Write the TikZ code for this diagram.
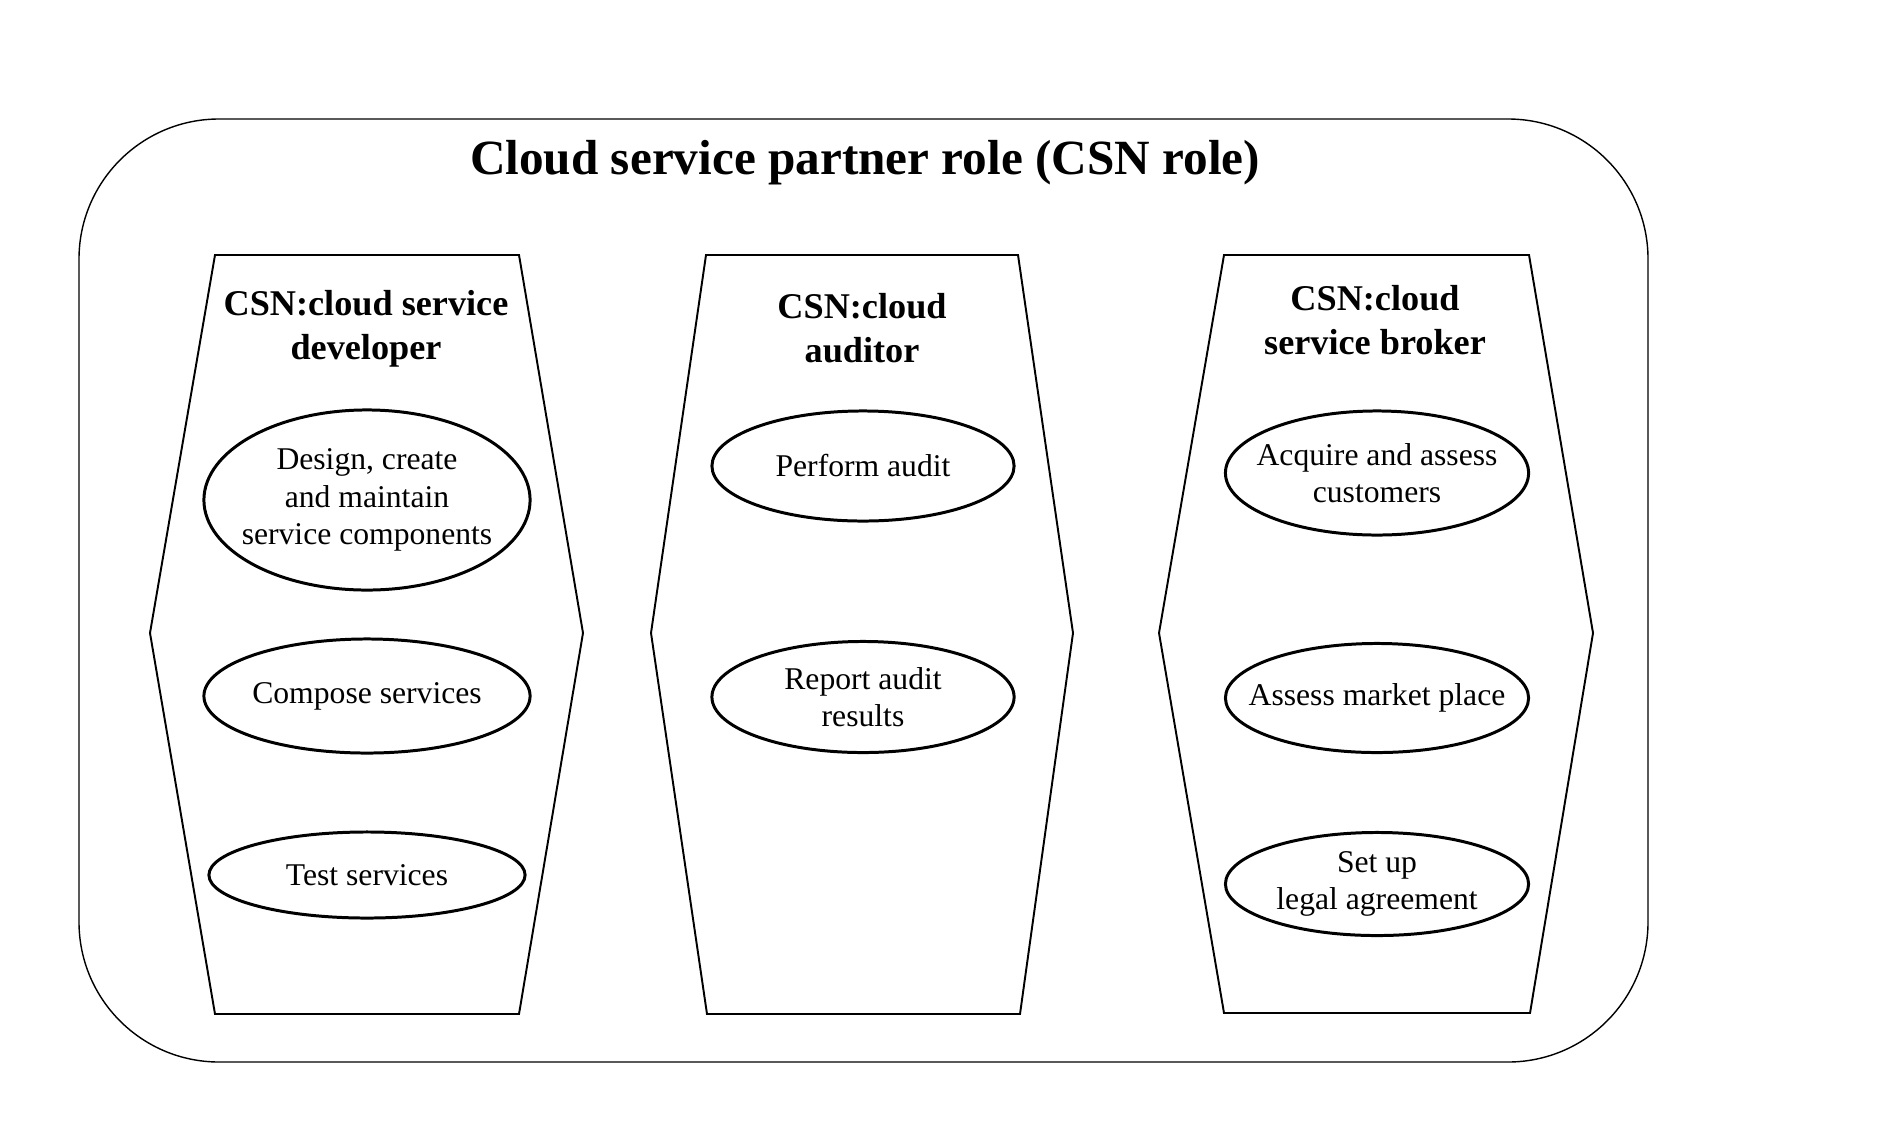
\documentclass[tikz,border=0pt]{standalone}
\usepackage{fontspec}
\setmainfont{Liberation Serif}
\usetikzlibrary{shapes.geometric}

\tikzset{
	task/.style={draw, ellipse, line width=0.85pt, inner sep=-1cm, align=center,
		font=\fontsize{9}{10.7}\selectfont},
	rolename/.style={align=center, inner sep=0pt, font=\fontsize{10.3}{12.6}\selectfont\bfseries},
	rolebox/.style={line width=0.55pt, line join=miter},
}

\begin{document}
\begin{tikzpicture}[x=0.01cm, y=-0.01cm]
	\useasboundingbox (0,0) rectangle (1904,1124);
	\draw [line width=0.4pt, rounded corners=1.4cm] (79,119) rectangle (1648,1062);
	\node [anchor=base, inner sep=0pt, font=\fontsize{14}{17}\selectfont\bfseries] (title) at (865,174) {Cloud service partner role (CSN role)};
	
	% the three roles
	\draw [rolebox] (215,255) -- (519,255) -- (583,633) -- (519,1014) -- (215,1014) -- (150,633) -- cycle;
	\draw [rolebox] (706,255) -- (1018,255) -- (1073,633) -- (1020,1014) -- (707,1014) -- (651,633) -- cycle;
	\draw [rolebox] (1224,255) -- (1529,255) -- (1593,633) -- (1530,1013) -- (1224,1013) -- (1159,633) -- cycle;
	
	\node [rolename] (developer) at (366,329) {CSN:cloud service\\developer};
	\node [rolename] (auditor) at (862,328) {CSN:cloud\\auditor};
	\node [rolename] (broker) at (1375,320) {CSN:cloud\\service broker};
	
	% activities
	\node [task, minimum width=3.26cm, minimum height=1.80cm] (design) at (367,500) {Design, create\\and maintain\\service components};
	\node [task, minimum width=3.26cm, minimum height=1.14cm] (compose) at (367,696) {Compose services};
	\node [task, minimum width=3.16cm, minimum height=0.86cm] (test) at (367,875) {Test services};
	
	\node [task, minimum width=3.02cm, minimum height=1.10cm] (perform) at (863,466) {Perform audit};
	\node [task, minimum width=3.02cm, minimum height=1.11cm] (report) at (863,697) {Report audit\\results};
	
	\node [task, minimum width=3.03cm, minimum height=1.24cm] (acquire) at (1377,473) {Acquire and assess\\customers};
	\node [task, minimum width=3.03cm, minimum height=1.09cm] (market) at (1377,698) {Assess market place};
	\node [task, minimum width=3.03cm, minimum height=1.03cm] (legal) at (1377,884) {Set up\\legal agreement};
\end{tikzpicture}
\end{document}
